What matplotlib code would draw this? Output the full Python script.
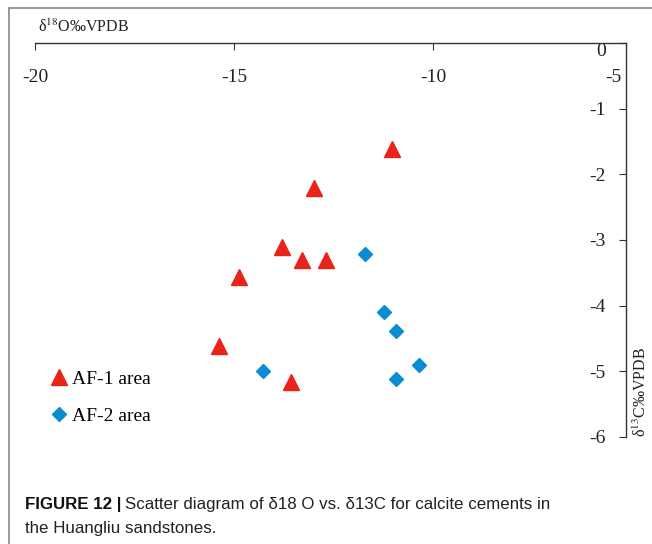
import matplotlib.pyplot as plt
from matplotlib.lines import Line2D

plt.rcParams['font.family'] = ['Liberation Serif', 'DejaVu Serif']
plt.rcParams['mathtext.fontset'] = 'stix'

# delta18O (x) and delta13C (y) values
af1_o18 = [-11.03, -13.00, -13.79, -13.29, -12.68, -14.87, -15.37, -13.58]
af1_c13 = [-1.62, -2.21, -3.10, -3.31, -3.31, -3.57, -4.62, -5.17]
af2_o18 = [-11.70, -11.22, -10.94, -10.34, -10.93, -14.28]
af2_c13 = [-3.21, -4.10, -4.39, -4.91, -5.11, -4.99]

x_ticks = [-20, -15, -10]
y_ticks = [0, -1, -2, -3, -4, -5, -6]

red = '#e8231a'
blue = '#0b8bd2'

fig = plt.figure(figsize=(6.52, 5.44), dpi=100)
ax = fig.add_axes([35 / 652, 1 - 437 / 544, (626 - 35) / 652, (437 - 43) / 544])

ax.plot(af1_o18, af1_c13, linestyle='none', marker='^', ms=11, color=red, label='AF-1 area')
ax.plot(af2_o18, af2_c13, linestyle='none', marker='D', ms=7.5, color=blue, label='AF-2 area')

ax.set_xlim(-20, -5.15)
ax.set_ylim(-6, 0)

ax.spines['left'].set_visible(False)
ax.spines['bottom'].set_visible(False)
for s in ['top', 'right']:
    ax.spines[s].set_linewidth(1.0)
    ax.spines[s].set_color('#333333')

ax.xaxis.set_ticks_position('top')
ax.set_xticks(x_ticks)
ax.set_xticklabels([str(v) for v in x_ticks])
ax.tick_params(axis='x', direction='in', length=5, width=0.8, colors='#333333',
               labelcolor='#222222', labelsize=14, pad=-19)
for t in ax.get_xticklabels():
    t.set_va('top')

ax.yaxis.set_ticks_position('right')
ax.set_yticks(y_ticks)
ax.set_yticklabels([str(v) for v in y_ticks])
ax.tick_params(axis='y', direction='in', length=5, width=0.8, colors='#333333',
               labelcolor='#222222', labelsize=14, pad=-14.5)
for t in ax.get_yticklabels():
    t.set_ha('right')
ax.get_yticklabels()[0].set_va('top')

# lone "-5" label of the top axis, sitting against the right spine
ax.text(0.992, 1 - 35 / 394, '-5', transform=ax.transAxes, ha='right', va='center',
        fontsize=14, color='#222222')

ax.text(0.005, 1.018, 'δ$^{18}$O‰VPDB', transform=ax.transAxes, ha='left', va='bottom',
        fontsize=11.5, color='#222222')
ax.text(1.012, 0.0, 'δ$^{13}$C‰VPDB', transform=ax.transAxes, rotation=90, ha='left',
        va='bottom', fontsize=11.5, color='#222222')

ax.legend(loc='upper left', bbox_to_anchor=(0.015, 0.19), frameon=False, fontsize=14,
          handlelength=0.8, handletextpad=0.25, labelspacing=1.0, borderaxespad=0)

# page frame lines
fig.add_artist(Line2D([9 / 652, 1], [1 - 8 / 544, 1 - 8 / 544], color='#888888', lw=1.2))
fig.add_artist(Line2D([9 / 652, 9 / 652], [0, 1 - 8 / 544], color='#888888', lw=1.2))

cap_size = 12.2
bold = fig.text(25 / 652, 1 - 505 / 544, 'FIGURE 12 |', fontsize=cap_size, fontweight='bold',
                family='Liberation Sans', va='center', ha='left', color='#111111')
fig.canvas.draw()
bb = bold.get_window_extent()
fig.text((bb.x1 + 4) / 652, 1 - 505 / 544,
         'Scatter diagram of δ18 O vs. δ13C for calcite cements in',
         fontsize=cap_size, family='Liberation Sans', va='center', ha='left', color='#222222')
fig.text(25 / 652, 1 - 528 / 544, 'the Huangliu sandstones.', fontsize=cap_size,
         family='Liberation Sans', va='center', ha='left', color='#222222')

fig.savefig('out.png', dpi=100)
